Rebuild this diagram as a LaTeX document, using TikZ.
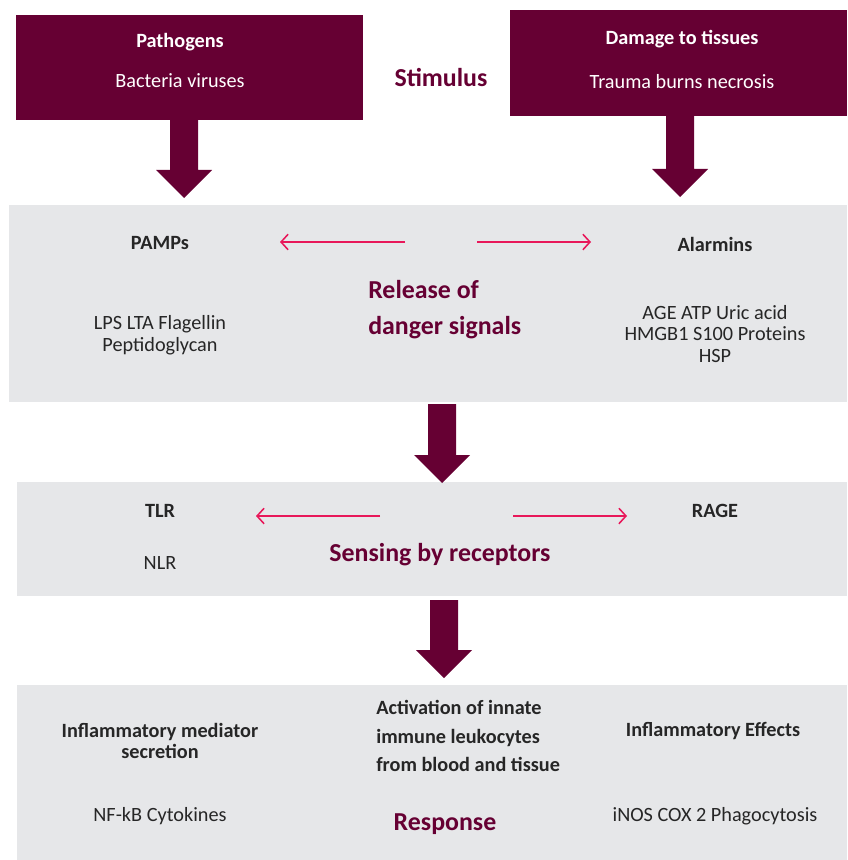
\documentclass[tikz,border=0pt]{standalone}
\usepackage{fontspec}
\setmainfont{Carlito}
\usepackage{xcolor}
\usetikzlibrary{arrows.meta,positioning,fit,calc}

\definecolor{wine}{HTML}{660033}
\definecolor{bandgray}{HTML}{E6E7E9}
\definecolor{signalred}{HTML}{E8185A}
\definecolor{inktext}{HTML}{262626}

% block arrow: from start (#1) down to tip (#2)
\newcommand{\bigarrow}[2]{%
  \fill[wine] ($(#1)+(-14,0)$) -- ($(#1)+(14,0)$) -- ($(#2)+(14,-28)$) -- ($(#2)+(28,-28)$)
    -- (#2) -- ($(#2)+(-28,-28)$) -- ($(#2)+(-14,-28)$) -- cycle;}

\begin{document}
\begin{tikzpicture}[
    x=0.025cm, y=-0.025cm,
    every node/.style={font=\fontsize{14.4}{15.5}\selectfont, text=inktext, inner sep=0pt},
    box/.style={fill=wine, inner sep=0pt},
    band/.style={fill=bandgray, inner sep=0pt},
    head/.style={font=\fontsize{14.4}{15.5}\selectfont\bfseries},
    stage/.style={font=\fontsize{18.4}{25}\selectfont\bfseries, text=wine},
    sig/.style={signalred, line width=1.1pt, -{Straight Barb[length=5pt, width=11pt]}}
]
    \useasboundingbox (0,0) rectangle (847,860);

    % Stimulus
    \node[box, fit={(16,15) (363,120)}] (patho) {};
    \node[box, fit={(510,10) (847,116)}] (damage) {};
    \node[head, text=white] (pathoT) at (180,42) {Pathogens};
    \node[text=white] (pathoS) at (180,81) {Bacteria viruses};
    \node[head, text=white] (damageT) at (682,39) {Damage to tissues};
    \node[text=white] (damageS) at (682,82) {Trauma burns necrosis};
    \node[stage] (stim) at (441,77) {Stimulus};

    % Release of danger signals
    \node[band, fit={(9,205) (847,402)}] (release) {};
    \node[head] (pamps) at (160,243) {PAMPs};
    \node[align=center] (pampsL) at (160,335) {LPS LTA Flagellin\\Peptidoglycan};
    \node[head] (alarm) at (715,244) {Alarmins};
    \node[align=center] (alarmL) at (715,334) {AGE ATP Uric acid\\HMGB1 S100 Proteins\\HSP};
    \node[stage, align=left, anchor=west, font=\fontsize{18.4}{25.5}\selectfont\bfseries] (relT) at (368,310) {Release of\\danger signals};
    \coordinate (r1a) at (405,242);
    \coordinate (r1b) at (280,242);
    \coordinate (r2a) at (477,242);
    \coordinate (r2b) at (591,242);
    \draw[sig] (r1a) -- (r1b);
    \draw[sig] (r2a) -- (r2b);

    % Sensing by receptors
    \node[band, fit={(17,482) (847,596)}] (sensing) {};
    \node[head] (tlr) at (160,511) {TLR};
    \node (nlr) at (160,563) {NLR};
    \node[head] (rage) at (715,511) {RAGE};
    \node[stage] (sensT) at (440,555) {Sensing by receptors};
    \coordinate (s1a) at (380,516);
    \coordinate (s1b) at (256,516);
    \coordinate (s2a) at (513,516);
    \coordinate (s2b) at (627,516);
    \draw[sig] (s1a) -- (s1b);
    \draw[sig] (s2a) -- (s2b);

    % Response
    \node[band, fit={(17,685) (847,860)}] (response) {};
    \node[head, align=center, font=\fontsize{14.4}{14.5}\selectfont\bfseries] (medT) at (160,741) {Inflammatory mediator\\secretion};
    \node[head, align=left, anchor=west, font=\fontsize{14.4}{20}\selectfont\bfseries] (actT) at (376,736) {Activation of innate\\immune leukocytes\\from blood and tissue};
    \node[head] (effT) at (713,731) {Inflammatory Effects};
    \node (medL) at (160,816) {NF-kB Cytokines};
    \node[stage] (respT) at (445,824) {Response};
    \node (effL) at (715,816) {iNOS COX 2 Phagocytosis};

    % Block arrows
    \coordinate (b1a) at (184,120);  \coordinate (b1b) at (184,198);
    \coordinate (b2a) at (680,116);  \coordinate (b2b) at (680,197);
    \coordinate (b3a) at (442,404);  \coordinate (b3b) at (442,483);
    \coordinate (b4a) at (444,600);  \coordinate (b4b) at (444,678);
    \bigarrow{b1a}{b1b}
    \bigarrow{b2a}{b2b}
    \bigarrow{b3a}{b3b}
    \bigarrow{b4a}{b4b}
\end{tikzpicture}
\end{document}
